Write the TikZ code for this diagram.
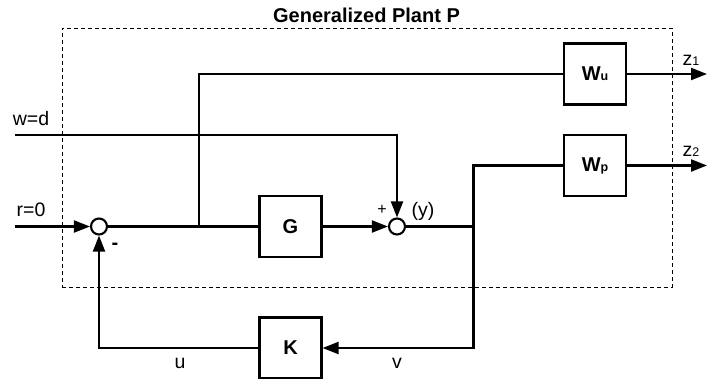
\documentclass[tikz,border=0pt]{standalone}
\usepackage{fontspec}
\setmainfont{Liberation Sans}
\usetikzlibrary{arrows.meta}

\begin{document}
\begin{tikzpicture}[
	x=1pt, y=-1pt,
	font=\fontsize{19.5}{23}\selectfont,
	block/.style={rectangle, draw, line width=2.1pt, minimum width=62pt, minimum height=61pt, font=\fontsize{20}{23}\selectfont\bfseries},
	sum/.style={circle, draw, line width=2.1pt, minimum size=16pt, inner sep=0pt},
	plantbox/.style={rectangle, draw, line width=1pt, dash pattern=on 4pt off 3pt, minimum width=610pt, minimum height=259pt},
	lbl/.style={inner sep=0pt, anchor=base},
	wire/.style={line width=2.1pt},
	arrow/.style={wire, -{Triangle[length=16pt, width=12pt]}}
	]
	\useasboundingbox (0,0) rectangle (707,378);

	% Generalized plant frame
	\node[plantbox] (plant) at (367,157.5) {};
	\node[lbl, font=\fontsize{20}{23}\selectfont\bfseries] (title) at (366.5,22) {Generalized Plant P};

	% Summing junctions
	\node[sum] (sum1) at (99,226.5) {};
	\node[sum] (sum2) at (397,226.5) {};

	% Blocks
	\node[block] (G) at (290.5,226.5) {G};
	\node[block] (K) at (290.5,348) {K};
	\node[block] (Wu) at (595,74) {W{\fontsize{12.5}{12}\selectfont u}};
	\node[block] (Wp) at (595,165.5) {W{\fontsize{12.5}{12}\selectfont p}};

	% Points
	\coordinate (rin) at (15,226.5);
	\coordinate (win) at (15,135);
	\coordinate (branch) at (199,226.5);
	\coordinate (ytap) at (473.5,226.5);
	\coordinate (vbot) at (473.5,348);
	\coordinate (z1out) at (707,74);
	\coordinate (z2out) at (707,165.5);

	% Labels
	\node[lbl] (wlbl) at (31,125) {w=d};
	\node[lbl] (rlbl) at (31,216) {r=0};
	\node[lbl, font=\fontsize{20}{23}\selectfont\bfseries] (minus) at (115,249) {-};
	\node[lbl, font=\fontsize{16}{18}\selectfont] (plus) at (382,214) {+};
	\node[lbl] (ylbl) at (423,216) {(y)};
	\node[lbl] (ulbl) at (180,368) {u};
	\node[lbl] (vlbl) at (397,368) {v};
	\node[lbl] (z1lbl) at (691,65) {z{\fontsize{12.5}{12}\selectfont 1}};
	\node[lbl] (z2lbl) at (691,156) {z{\fontsize{12.5}{12}\selectfont 2}};

	% Connections
	\draw[arrow] (rin) -- (sum1);
	\draw[wire] (sum1) -- (G);
	\draw[wire] (branch) |- (Wu);
	\draw[arrow] (G) -- (sum2);
	\draw[arrow] (win) -| (sum2);
	\draw[wire] (sum2) -- (ytap);
	\draw[arrow] (Wp) -| (vbot) -- (K);
	\draw[arrow] (K) -| (sum1);
	\draw[arrow] (Wu) -- (z1out);
	\draw[arrow] (Wp) -- (z2out);

\end{tikzpicture}
\end{document}
